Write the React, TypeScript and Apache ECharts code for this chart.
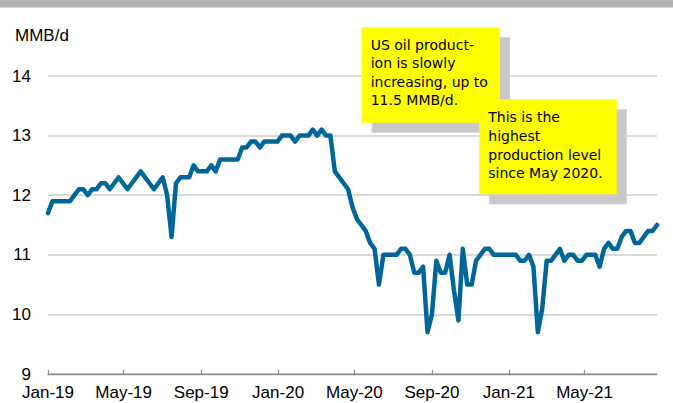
import React, { useEffect, useRef } from "react";
import * as echarts from "echarts";

// Weekly US crude oil production (MMB/d), weeks starting Jan 4, 2019
const startDate = [2019, 0, 4];
const production = [
  11.7, 11.9, 11.9, 11.9, 11.9, 11.9, 12.0, 12.1, 12.1, 12.0,
  12.1, 12.1, 12.2, 12.2, 12.1, 12.2, 12.3, 12.2, 12.1, 12.2,
  12.3, 12.4, 12.3, 12.2, 12.1, 12.2, 12.3, 12.0, 11.3, 12.2,
  12.3, 12.3, 12.3, 12.5, 12.4, 12.4, 12.4, 12.5, 12.4, 12.6,
  12.6, 12.6, 12.6, 12.6, 12.8, 12.8, 12.9, 12.9, 12.8, 12.9,
  12.9, 12.9, 12.9, 13.0, 13.0, 13.0, 12.9, 13.0, 13.0, 13.0,
  13.1, 13.0, 13.1, 13.0, 13.0, 12.4, 12.3, 12.2, 12.1, 11.8,
  11.6, 11.5, 11.4, 11.2, 11.1, 10.5, 11.0, 11.0, 11.0, 11.0,
  11.1, 11.1, 11.0, 10.7, 10.7, 10.8, 9.7, 10.0, 10.9, 10.7,
  10.7, 11.0, 10.4, 9.9, 11.1, 10.5, 10.5, 10.9, 11.0, 11.1,
  11.1, 11.0, 11.0, 11.0, 11.0, 11.0, 11.0, 10.9, 10.9, 11.0,
  10.8, 9.7, 10.1, 10.9, 10.9, 11.0, 11.1, 10.9, 11.0, 11.0,
  10.9, 10.9, 11.0, 11.0, 11.0, 10.8, 11.1, 11.2, 11.1, 11.1,
  11.3, 11.4, 11.4, 11.2, 11.2, 11.3, 11.4, 11.4, 11.5,
];

const tickLabels = ["Jan-19", "May-19", "Sep-19", "Jan-20", "May-20", "Sep-20", "Jan-21", "May-21"];
const tickDates = [
  [2019, 0, 4], [2019, 4, 4], [2019, 8, 4], [2020, 0, 4],
  [2020, 4, 4], [2020, 8, 4], [2021, 0, 4], [2021, 4, 4],
];

const yMin = 9;
const yMax = 14;
const yStep = 1;
const unitLabel = "MMB/d";

const note1 = ["US oil product-", "ion is slowly", "increasing, up to", "11.5 MMB/d."];
const note2 = ["This is the", "highest", "production level", "since May 2020."];

const DAY = 86400000;
const dayIndex = (y: number, m: number, d: number) =>
  Math.round((Date.UTC(y, m, d) - Date.UTC(startDate[0], startDate[1], startDate[2])) / DAY);

export default function App() {
  const ref = useRef<HTMLDivElement>(null);

  useEffect(() => {
    if (!ref.current) return;
    const chart = echarts.init(ref.current, undefined, { renderer: "svg" });

    const points = production.map((v, i) => [7 * i, v]);
    const tickDays = tickDates.map((d) => dayIndex(d[0], d[1], d[2]));
    const labelFor = (v: number) => {
      let best = 0;
      let bd = Infinity;
      tickDays.forEach((t, i) => {
        const d = Math.abs(t - v);
        if (d < bd) {
          bd = d;
          best = i;
        }
      });
      return tickLabels[best];
    };

    const noteFont = "'Comic Sans MS', 'DejaVu Sans', sans-serif";
    const makeNote = (x: number, y: number, w: number, h: number, lines: string[], lh: number) => [
      { type: "rect", shape: { x: x + 10, y: y + 10, width: w, height: h }, style: { fill: "#c8c8c8" }, z: 100 },
      { type: "rect", shape: { x, y, width: w, height: h }, style: { fill: "#ffff00" }, z: 101 },
      {
        type: "text",
        x: x + 9,
        y: y + 8.5,
        z: 102,
        style: {
          text: lines.join("\n"),
          fill: "#000",
          fontSize: 14,
          fontFamily: noteFont,
          lineHeight: lh,
          verticalAlign: "top",
          align: "left",
        },
      },
    ];

    chart.setOption({
      animation: false,
      backgroundColor: "#ffffff",
      grid: { left: 48, right: 16, top: 76, bottom: 29, containLabel: false },
      xAxis: {
        type: "value",
        min: 0,
        max: 7 * (production.length - 1),
        axisLine: { show: true, lineStyle: { color: "#8a8a8a", width: 1.3 } },
        axisTick: {
          show: true,
          inside: true,
          length: 4,
          lineStyle: { color: "#8a8a8a", width: 1.3 },
          customValues: tickDays,
        },
        axisLabel: {
          customValues: tickDays,
          formatter: (v: number) => labelFor(v),
          color: "#000",
          fontSize: 17,
          fontFamily: "'Liberation Sans', Arial, sans-serif",
          margin: 10,
          hideOverlap: false,
        },
        splitLine: { show: false },
      },
      yAxis: {
        type: "value",
        min: yMin,
        max: yMax,
        interval: yStep,
        axisLine: { show: false },
        axisTick: { show: false },
        axisLabel: {
          color: "#000",
          fontSize: 17,
          fontFamily: "'Liberation Sans', Arial, sans-serif",
          margin: 17,
        },
        splitLine: { show: true, lineStyle: { color: "#d9d9d9", width: 2 } },
      },
      series: [
        {
          type: "line",
          data: points,
          showSymbol: false,
          symbol: "none",
          lineStyle: { color: "#006699", width: 4.5, join: "round", cap: "round" },
          z: 5,
        },
      ],
      graphic: [
        { type: "rect", shape: { x: 0, y: 0, width: 673, height: 7.5 }, style: { fill: "#b3b3b3" }, z: 100 },
        {
          type: "text",
          x: 15,
          y: 35,
          z: 100,
          style: {
            text: unitLabel,
            fill: "#000",
            fontSize: 17,
            fontFamily: "'Liberation Sans', Arial, sans-serif",
            verticalAlign: "middle",
          },
        },
        ...makeNote(361.7, 27.3, 138.3, 95.4, note1, 18.4),
        ...makeNote(479.3, 99.3, 137.4, 95, note2, 18.7),
      ],
    });

    return () => chart.dispose();
  }, []);

  return (
    <div
      ref={ref}
      style={{ position: "fixed", left: 0, top: 0, width: 673, height: 403 }}
    />
  );
}
